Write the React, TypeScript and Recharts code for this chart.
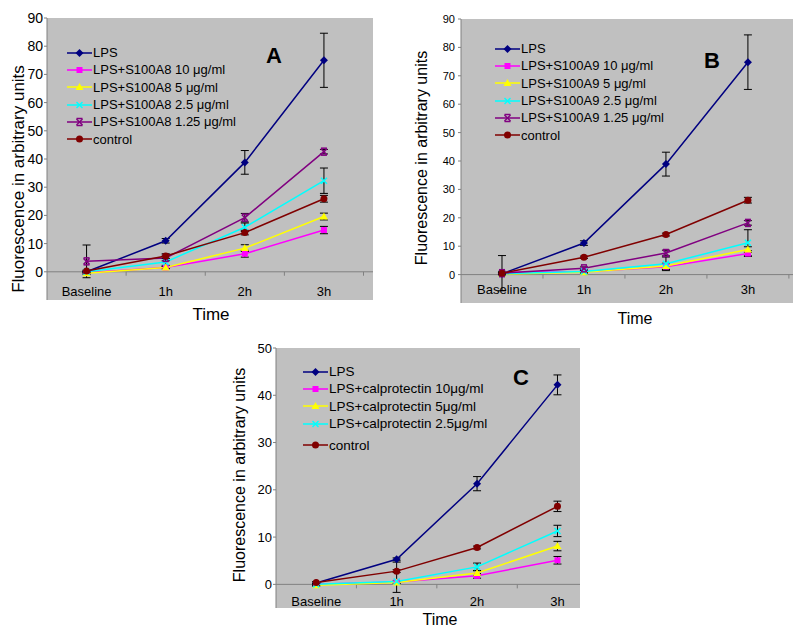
import React from 'react'
import {
  LineChart, Line, XAxis, YAxis, CartesianGrid, ErrorBar, Legend, ReferenceLine,
} from 'recharts'

const FONT = '"Liberation Sans", Arial, sans-serif'
const PLOT_BG = '#c0c0c0'
const AXIS = '#808080'

const TIMES = ['Baseline', '1h', '2h', '3h']
const TIME_IDX = [0, 1, 2, 3]

// panel A - S100A8
const A_LPS = [0, 11, 38.8, 75]
const A_LPS_ERR = [0.3, 0.8, 4.2, 9.6]
const A_10 = [-0.3, 1.5, 6.4, 14.8]
const A_10_ERR = [0.3, 0.4, 1.2, 1.3]
const A_5 = [-0.5, 1.5, 8.4, 19.6]
const A_5_ERR = [0.5, 0.4, 1.2, 1.2]
const A_25 = [0, 3.5, 15.8, 32.3]
const A_25_ERR = [0.3, 1.2, 1.5, 4.5]
const A_125 = [3.7, 4.9, 19.2, 42.6]
const A_125_ERR = [5.8, 1, 1.5, 0.8]
const A_CTRL = [0.3, 5.6, 13.9, 25.9]
const A_CTRL_ERR = [0.3, 0.8, 0.8, 1.2]

// panel B - S100A9
const B_LPS = [0.3, 11.1, 38.9, 74.8]
const B_LPS_ERR = [0.3, 0.8, 4.2, 9.6]
const B_10 = [0.8, 1, 2.8, 7.4]
const B_10_ERR = [0.3, 0.3, 1, 1]
const B_5 = [0.2, 0.8, 3, 8.8]
const B_5_ERR = [0.3, 0.3, 1, 1]
const B_25 = [0.3, 1.1, 3.8, 11.2]
const B_25_ERR = [0.3, 0.3, 2.4, 4.6]
const B_125 = [0.5, 2.2, 7.6, 18.2]
const B_125_ERR = [6.2, 0.5, 1, 0.8]
const B_CTRL = [0.5, 6.1, 14.1, 26.2]
const B_CTRL_ERR = [0.3, 0.4, 0.5, 1]

// panel C - calprotectin
const C_LPS = [0.3, 5.3, 21.3, 42.2]
const C_LPS_ERR = [0.2, 0.3, 1.5, 2.1]
const C_10 = [0, 0.5, 1.8, 5.1]
const C_10_ERR = [0.2, 0.2, 0.5, 0.8]
const C_5 = [-0.2, 0.4, 2.4, 8.1]
const C_5_ERR = [0.2, 0.2, 0.5, 1]
const C_25 = [0, 0.6, 3.7, 11.3]
const C_25_ERR: (number | number[])[] = [0.2, [2.3, 4.1], 0.8, 1.2]
const C_CTRL = [0.4, 2.8, 7.8, 16.5]
const C_CTRL_ERR = [0.2, 0.3, 0.3, 1.1]

const Y_TICKS_90 = [0, 10, 20, 30, 40, 50, 60, 70, 80, 90]
const Y_TICKS_50 = [0, 10, 20, 30, 40, 50]

type Shape = 'diamond' | 'square' | 'triangle' | 'x' | 'star' | 'circle'
type Series = {
  key: string
  name: string
  color: string
  shape: Shape
  values: number[]
  errs: (number | number[])[]
}

const SERIES_A: Series[] = [
  { key: 'lps', name: 'LPS', color: '#000080', shape: 'diamond', values: A_LPS, errs: A_LPS_ERR },
  { key: 's10', name: 'LPS+S100A8 10 μg/ml', color: '#ff00ff', shape: 'square', values: A_10, errs: A_10_ERR },
  { key: 's5', name: 'LPS+S100A8 5 μg/ml', color: '#ffff00', shape: 'triangle', values: A_5, errs: A_5_ERR },
  { key: 's25', name: 'LPS+S100A8 2.5 μg/ml', color: '#00ffff', shape: 'x', values: A_25, errs: A_25_ERR },
  { key: 's125', name: 'LPS+S100A8 1.25 μg/ml', color: '#800080', shape: 'star', values: A_125, errs: A_125_ERR },
  { key: 'ctrl', name: 'control', color: '#800000', shape: 'circle', values: A_CTRL, errs: A_CTRL_ERR },
]

const SERIES_B: Series[] = [
  { key: 'lps', name: 'LPS', color: '#000080', shape: 'diamond', values: B_LPS, errs: B_LPS_ERR },
  { key: 's10', name: 'LPS+S100A9 10 μg/ml', color: '#ff00ff', shape: 'square', values: B_10, errs: B_10_ERR },
  { key: 's5', name: 'LPS+S100A9 5 μg/ml', color: '#ffff00', shape: 'triangle', values: B_5, errs: B_5_ERR },
  { key: 's25', name: 'LPS+S100A9 2.5 μg/ml', color: '#00ffff', shape: 'x', values: B_25, errs: B_25_ERR },
  { key: 's125', name: 'LPS+S100A9 1.25 μg/ml', color: '#800080', shape: 'star', values: B_125, errs: B_125_ERR },
  { key: 'ctrl', name: 'control', color: '#800000', shape: 'circle', values: B_CTRL, errs: B_CTRL_ERR },
]

const SERIES_C: Series[] = [
  { key: 'lps', name: 'LPS', color: '#000080', shape: 'diamond', values: C_LPS, errs: C_LPS_ERR },
  { key: 's10', name: 'LPS+calprotectin 10μg/ml', color: '#ff00ff', shape: 'square', values: C_10, errs: C_10_ERR },
  { key: 's5', name: 'LPS+calprotectin 5μg/ml', color: '#ffff00', shape: 'triangle', values: C_5, errs: C_5_ERR },
  { key: 's25', name: 'LPS+calprotectin 2.5μg/ml', color: '#00ffff', shape: 'x', values: C_25, errs: C_25_ERR },
  { key: 'ctrl', name: 'control', color: '#800000', shape: 'circle', values: C_CTRL, errs: C_CTRL_ERR },
]

function buildRows(series: Series[]) {
  return TIME_IDX.map((t) => {
    const row: Record<string, any> = { t }
    series.forEach((s) => {
      row[s.key] = s.values[t]
      row[s.key + 'Err'] = s.errs[t]
    })
    return row
  })
}

function Marker({ cx, cy, shape, color }: { cx: number; cy: number; shape: Shape; color: string }) {
  if (cx == null || cy == null) return <g />
  switch (shape) {
    case 'diamond':
      return <polygon points={`${cx},${cy - 4} ${cx + 4},${cy} ${cx},${cy + 4} ${cx - 4},${cy}`} fill={color} />
    case 'square':
      return <rect x={cx - 3} y={cy - 3} width={6} height={6} fill={color} />
    case 'triangle':
      return <polygon points={`${cx},${cy - 4} ${cx + 4},${cy + 3} ${cx - 4},${cy + 3}`} fill={color} />
    case 'x':
      return (
        <g stroke={color} strokeWidth={1.5}>
          <line x1={cx - 3} y1={cy - 3} x2={cx + 3} y2={cy + 3} />
          <line x1={cx - 3} y1={cy + 3} x2={cx + 3} y2={cy - 3} />
        </g>
      )
    case 'star':
      return (
        <g stroke={color} strokeWidth={1.5}>
          <line x1={cx - 3} y1={cy - 3} x2={cx + 3} y2={cy + 3} />
          <line x1={cx - 3} y1={cy + 3} x2={cx + 3} y2={cy - 3} />
          <line x1={cx - 3} y1={cy - 3.5} x2={cx + 3} y2={cy - 3.5} />
          <line x1={cx - 3} y1={cy + 3.5} x2={cx + 3} y2={cy + 3.5} />
        </g>
      )
    default:
      return <circle cx={cx} cy={cy} r={3.5} fill={color} />
  }
}

const dotFor = (s: Series) => (p: any) => (
  <Marker key={`${s.key}-${p.index}`} cx={p.cx} cy={p.cy} shape={s.shape} color={s.color} />
)

type PanelProps = {
  series: Series[]
  box: { left: number; top: number; width: number; height: number }
  margin: { top: number; right: number; left: number; bottom: number }
  yWidth: number
  yDomain: [number, number]
  yTicks: number[]
  yFont: number
  yGap: number
  xDomain: [number, number]
  xLift: number
  markLen: number
  legendPos: { left: number; top: number }
  legendFont: number
  lastGap: number
}

function Panel(p: PanelProps) {
  const rows = buildRows(p.series)
  const renderLegend = () => (
    <div style={{ fontFamily: FONT, fontSize: p.legendFont, color: '#000' }}>
      {p.series.map((s, i) => (
        <div
          key={s.key}
          style={{
            display: 'flex', alignItems: 'center', height: 17.3, whiteSpace: 'nowrap',
            marginTop: i === p.series.length - 1 ? p.lastGap : 0,
          }}
        >
          <svg width={25} height={10} style={{ marginRight: 1 }}>
            <line x1={0} y1={5} x2={25} y2={5} stroke={s.color} strokeWidth={1.5} />
            <Marker cx={12.5} cy={5} shape={s.shape} color={s.color} />
          </svg>
          <span>{s.name}</span>
        </div>
      ))}
    </div>
  )
  const xTick = (t: any) => (
    <text x={t.x} y={t.y - p.xLift} textAnchor="middle" fontSize={13} fontFamily={FONT} fill="#000">
      {TIMES[t.payload.value]}
    </text>
  )
  return (
    <div style={{ position: 'absolute', ...p.box }}>
      <LineChart width={p.box.width} height={p.box.height} data={rows} margin={p.margin}>
        <CartesianGrid fill={PLOT_BG} horizontal={false} vertical={false} />
        <XAxis
          type="number"
          dataKey="t"
          domain={p.xDomain}
          ticks={TIME_IDX}
          allowDataOverflow
          height={20}
          axisLine={false}
          tickLine={false}
          tickSize={0}
          tickMargin={0}
          tick={xTick}
        />
        <YAxis
          domain={p.yDomain}
          ticks={p.yTicks}
          allowDataOverflow
          width={p.yWidth}
          tickSize={3}
          tickMargin={p.yGap}
          axisLine={{ stroke: AXIS }}
          tickLine={{ stroke: AXIS }}
          tick={{ fontSize: p.yFont, fill: '#000', fontFamily: FONT }}
        />
        <ReferenceLine y={0} stroke={AXIS} />
        {[0.5, 1.5, 2.5, 3.5].filter((b) => b < p.xDomain[1]).map((b) => (
          <ReferenceLine key={b} segment={[{ x: b, y: 0 }, { x: b, y: -p.markLen }]} stroke={AXIS} />
        ))}
        {p.series.map((s) => (
          <Line
            key={s.key}
            dataKey={s.key}
            name={s.name}
            stroke={s.color}
            strokeWidth={1.5}
            dot={dotFor(s)}
            activeDot={false}
            isAnimationActive={false}
          >
            <ErrorBar dataKey={s.key + 'Err'} direction="y" width={4} stroke="#000" strokeWidth={1} />
          </Line>
        ))}
        <Legend
          layout="vertical"
          align="center"
          verticalAlign="middle"
          content={renderLegend}
          wrapperStyle={{ left: p.legendPos.left, top: p.legendPos.top, width: 'auto', height: 'auto' }}
        />
      </LineChart>
    </div>
  )
}

function Txt({ x, y, size, bold, rotate, children }: any) {
  return (
    <div
      style={{
        position: 'absolute', left: x, top: y, fontFamily: FONT, fontSize: size,
        fontWeight: bold ? 'bold' : 'normal', lineHeight: 1, whiteSpace: 'nowrap',
        transform: `translate(-50%, -50%)${rotate ? ' rotate(-90deg)' : ''}`,
      }}
    >
      {children}
    </div>
  )
}

export default function App() {
  return (
    <div style={{ position: 'absolute', left: 0, top: 0, width: 800, height: 634, background: '#fff' }}>
      <Panel
        series={SERIES_A}
        box={{ left: 0, top: 0, width: 380, height: 320 }}
        margin={{ top: 18, right: 7, left: 0, bottom: 0 }}
        yWidth={47}
        yDomain={[-10, 90]}
        yTicks={Y_TICKS_90}
        yFont={14}
        yGap={1}
        xDomain={[-0.5, 3.62]}
        xLift={4}
        markLen={1.4}
        legendPos={{ left: 67, top: 44 }}
        legendFont={13}
        lastGap={0}
      />
      <Panel
        series={SERIES_B}
        box={{ left: 420, top: 0, width: 380, height: 323 }}
        margin={{ top: 19, right: 7, left: 0, bottom: 0 }}
        yWidth={41}
        yDomain={[-10, 90]}
        yTicks={Y_TICKS_90}
        yFont={11}
        yGap={3}
        xDomain={[-0.5, 3.55]}
        xLift={9}
        markLen={1.4}
        legendPos={{ left: 75, top: 40 }}
        legendFont={13}
        lastGap={0}
      />
      <Panel
        series={SERIES_C}
        box={{ left: 230, top: 330, width: 360, height: 298 }}
        margin={{ top: 18, right: 10, left: 0, bottom: 0 }}
        yWidth={46}
        yDomain={[-5, 50]}
        yTicks={Y_TICKS_50}
        yFont={13}
        yGap={1}
        xDomain={[-0.5, 3.28]}
        xLift={2}
        markLen={0.85}
        legendPos={{ left: 73, top: 33 }}
        legendFont={13.5}
        lastGap={4.5}
      />
      <Txt x={18} y={179} size={17} rotate>Fluorescence in arbitrary units</Txt>
      <Txt x={211} y={314} size={17}>Time</Txt>
      <Txt x={274} y={56} size={22} bold>A</Txt>
      <Txt x={422} y={158} size={16} rotate>Fluorescence in arbitrary units</Txt>
      <Txt x={635} y={319} size={16}>Time</Txt>
      <Txt x={712} y={61} size={22} bold>B</Txt>
      <Txt x={240} y={475} size={16} rotate>Fluorescence in arbitrary units</Txt>
      <Txt x={440} y={620} size={16}>Time</Txt>
      <Txt x={521} y={378} size={22} bold>C</Txt>
    </div>
  )
}
